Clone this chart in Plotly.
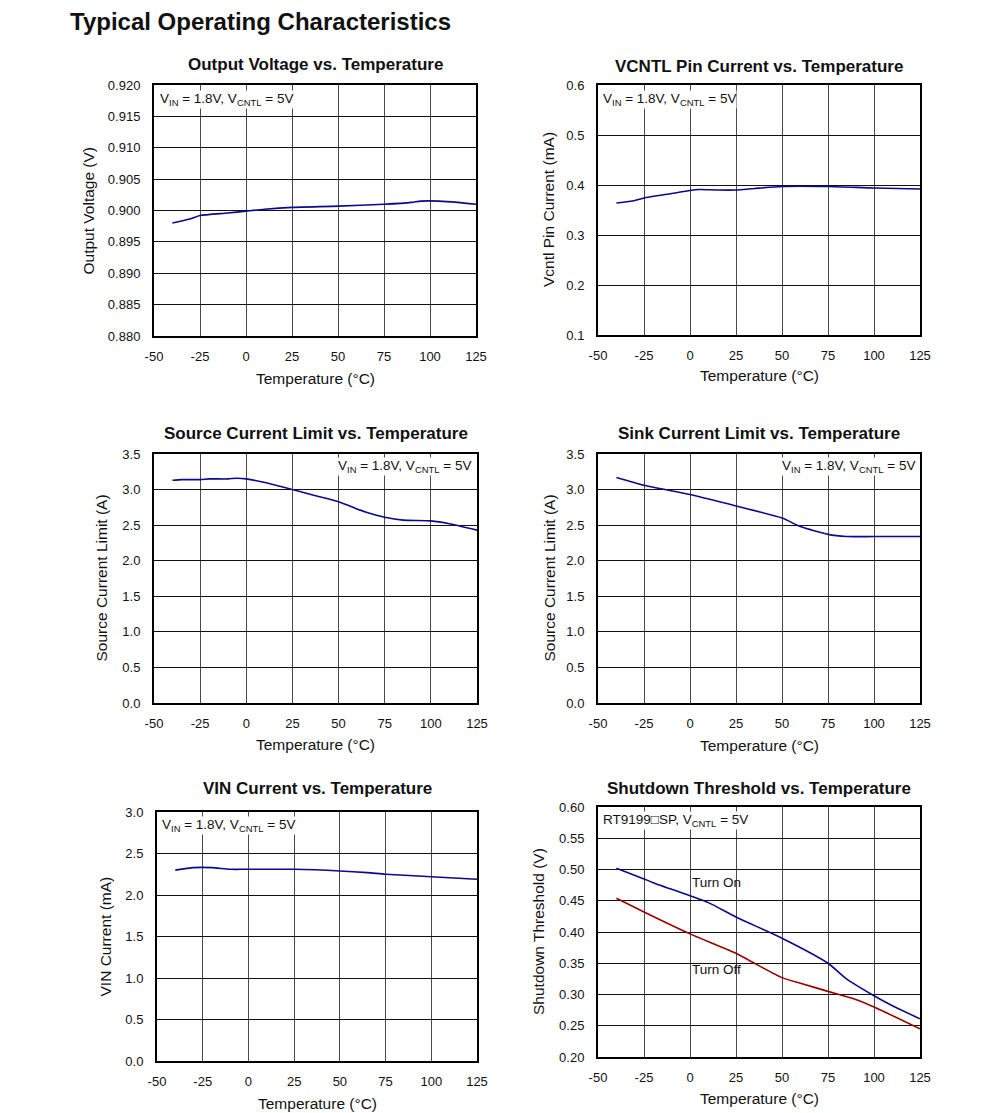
import plotly.graph_objects as go

OFF = 8  # default page body margin
W, H = 991 - OFF, 1113 - OFF
FONT = "Liberation Sans, Arial, sans-serif"
NAVY = "#0a0a8c"
DRED = "#990000"

# ---- data ----
temp_vout = [-40, -30, -25, -10, 0, 10, 25, 50, 75, 90, 95, 105, 115, 125]
vout = [0.8980, 0.8987, 0.8992, 0.8996, 0.8999, 0.9002, 0.9005, 0.9007, 0.9010, 0.9013, 0.9015, 0.9015, 0.9013, 0.9010]

temp_icntl = [-40, -30, -25, -10, 0, 5, 15, 25, 35, 50, 75, 100, 125]
icntl = [0.364, 0.369, 0.374, 0.383, 0.389, 0.391, 0.390, 0.390, 0.393, 0.397, 0.397, 0.394, 0.392]

temp_src = [-40, -35, -25, -20, -10, -5, 0, 10, 25, 35, 50, 65, 75, 85, 100, 110, 125]
src = [3.13, 3.14, 3.14, 3.15, 3.15, 3.16, 3.15, 3.10, 3.00, 2.93, 2.83, 2.68, 2.61, 2.57, 2.56, 2.52, 2.43]

temp_sink = [-40, -25, 0, 25, 50, 60, 75, 85, 100, 125]
sink = [3.17, 3.06, 2.93, 2.77, 2.60, 2.48, 2.37, 2.34, 2.34, 2.34]

temp_vin = [-40, -30, -20, -10, 0, 25, 50, 65, 75, 100, 125]
ivin = [2.30, 2.33, 2.33, 2.31, 2.31, 2.31, 2.29, 2.27, 2.25, 2.22, 2.19]

temp_sd = [-40, -25, -20, 0, 10, 25, 50, 75, 85, 100, 110, 125]
turn_on = [0.502, 0.485, 0.479, 0.458, 0.447, 0.424, 0.390, 0.350, 0.325, 0.298, 0.282, 0.261]
temp_off = [-40, -25, 0, 25, 35, 50, 60, 75, 90, 100, 125]
turn_off = [0.454, 0.432, 0.397, 0.366, 0.350, 0.327, 0.318, 0.305, 0.292, 0.280, 0.245]

x_ticks = [-50, -25, 0, 25, 50, 75, 100, 125]
x_tick_labels = ["-50", "-25", "0", "25", "50", "75", "100", "125"]

# ---- panel layout in screen pixels: (x0, x1, y_top, y_bottom) ----
panels = [
    dict(box=(154, 476, 85, 336), title="Output Voltage vs. Temperature", title_y=64,
         ytitle="Output Voltage (V)", ytitle_x=88, xtitle_y=379,
         yrange=[0.880, 0.920], dtick=0.005, fmt=".3f"),
    dict(box=(598, 920, 85, 335), title="VCNTL Pin Current vs. Temperature", title_y=66,
         ytitle="Vcntl Pin Current (mA)", ytitle_x=548, xtitle_y=376,
         yrange=[0.1, 0.6], dtick=0.1, fmt=".1f"),
    dict(box=(154, 477, 454, 703), title="Source Current Limit vs. Temperature", title_y=434,
         ytitle="Source Current Limit (A)", ytitle_x=101, xtitle_y=744,
         yrange=[0, 3.5], dtick=0.5, fmt=".1f"),
    dict(box=(598, 920, 454, 703), title="Sink Current Limit vs. Temperature", title_y=434,
         ytitle="Source Current Limit (A)", ytitle_x=549, xtitle_y=745,
         yrange=[0, 3.5], dtick=0.5, fmt=".1f"),
    dict(box=(157, 477, 812, 1061), title="VIN Current vs. Temperature", title_y=788,
         ytitle="VIN Current (mA)", ytitle_x=105, xtitle_y=1103,
         yrange=[0, 3.0], dtick=0.5, fmt=".1f"),
    dict(box=(598, 920, 807, 1057), title="Shutdown Threshold vs. Temperature", title_y=788,
         ytitle="Shutdown Threshold (V)", ytitle_x=538, xtitle_y=1098,
         yrange=[0.20, 0.60], dtick=0.05, fmt=".2f"),
]

series = [
    [(temp_vout, vout, NAVY)],
    [(temp_icntl, icntl, NAVY)],
    [(temp_src, src, NAVY)],
    [(temp_sink, sink, NAVY)],
    [(temp_vin, ivin, NAVY)],
    [(temp_sd, turn_on, NAVY), (temp_off, turn_off, DRED)],
]

fig = go.Figure()
annotations = []

def fx(px):
    return (px - OFF) / W

def fy(py):
    return 1 - (py - OFF) / H

for i, (p, ser) in enumerate(zip(panels, series), start=1):
    x0, x1, yt, yb = p["box"]
    xa = "xaxis" if i == 1 else f"xaxis{i}"
    ya = "yaxis" if i == 1 else f"yaxis{i}"
    xr = "x" if i == 1 else f"x{i}"
    yr = "y" if i == 1 else f"y{i}"
    for xs, ys, col in ser:
        fig.add_trace(go.Scatter(x=xs, y=ys, mode="lines", line=dict(color=col, width=1.6, shape="spline", smoothing=0.6),
                                 xaxis=xr, yaxis=yr, showlegend=False, hoverinfo="skip"))
    fig.update_layout(**{
        xa: dict(domain=[fx(x0), fx(x1)], anchor=yr, range=[-50, 125], tickvals=x_ticks, ticktext=x_tick_labels,
                 showgrid=True, gridcolor="#4a4a4a", gridwidth=1, zeroline=False,
                 showline=True, mirror=True, linecolor="black", linewidth=2,
                 ticks="", ticklabelstandoff=7, automargin=False,
                 tickfont=dict(family=FONT, size=13, color="#111")),
        ya: dict(domain=[fy(yb), fy(yt)], anchor=xr, range=p["yrange"], dtick=p["dtick"], tick0=0,
                 tickformat=p["fmt"], showgrid=True, gridcolor="#111", gridwidth=1, zeroline=False,
                 showline=True, mirror=True, linecolor="black", linewidth=2,
                 ticks="", ticklabelstandoff=9, automargin=False,
                 tickfont=dict(family=FONT, size=13, color="#111")),
    })
    cx = (x0 + x1) / 2
    annotations.append(dict(text=f"<b>{p['title']}</b>", x=fx(cx), y=fy(p["title_y"]), xref="paper", yref="paper",
                            showarrow=False, xanchor="center", yanchor="middle",
                            font=dict(family=FONT, size=17, color="#111")))
    annotations.append(dict(text="Temperature (°C)", x=fx(cx), y=fy(p["xtitle_y"]), xref="paper", yref="paper",
                            showarrow=False, xanchor="center", yanchor="middle",
                            font=dict(family=FONT, size=15.5, color="#111")))
    annotations.append(dict(text=p["ytitle"], x=fx(p["ytitle_x"]), y=fy((yt + yb) / 2), xref="paper", yref="paper",
                            showarrow=False, xanchor="center", yanchor="middle", textangle=-90,
                            font=dict(family=FONT, size=15.5, color="#111")))

cond = "V<sub>IN</sub> = 1.8V, V<sub>CNTL</sub> = 5V"
for (xp, yp, anc) in [(159, 99, "left"), (602, 99, "left"), (472, 466, "right"), (916, 466, "right"), (161, 825, "left")]:
    annotations.append(dict(text=cond, x=fx(xp), y=fy(yp), xref="paper", yref="paper", showarrow=False,
                            xanchor=anc, yanchor="middle", bgcolor="white", borderpad=0,
                            font=dict(family=FONT, size=13.5, color="#111")))
annotations.append(dict(text="RT9199\u25a1SP, V<sub>CNTL</sub> = 5V", x=fx(602), y=fy(820), xref="paper", yref="paper",
                        showarrow=False, xanchor="left", yanchor="middle", bgcolor="white", borderpad=0,
                        font=dict(family=FONT, size=13.5, color="#111")))
annotations.append(dict(text="Turn On", x=fx(690), y=fy(882), xref="paper", yref="paper", showarrow=False,
                        xanchor="left", yanchor="middle", font=dict(family=FONT, size=13.5, color="#111")))
annotations.append(dict(text="Turn Off", x=fx(690), y=fy(969), xref="paper", yref="paper", showarrow=False,
                        xanchor="left", yanchor="middle", font=dict(family=FONT, size=13.5, color="#111")))
annotations.append(dict(text="<b>Typical Operating Characteristics</b>", x=fx(68), y=fy(22), xref="paper", yref="paper",
                        showarrow=False, xanchor="left", yanchor="middle",
                        font=dict(family=FONT, size=24, color="#111")))

fig.update_layout(width=W, height=H, margin=dict(l=0, r=0, t=0, b=0, autoexpand=False),
                  paper_bgcolor="white", plot_bgcolor="white", annotations=annotations,
                  font=dict(family=FONT))
fig.write_html("out.html")
